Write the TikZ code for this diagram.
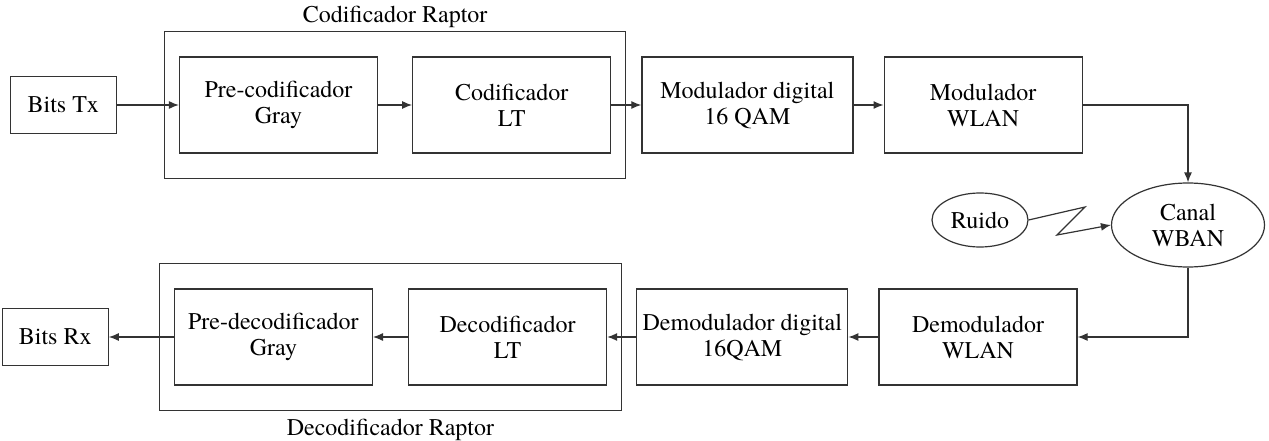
\documentclass[tikz,border=0pt]{standalone}
\usepackage{fontspec}
\setmainfont{texgyretermes}[Extension=.otf, UprightFont=*-regular, BoldFont=*-bold, ItalicFont=*-italic, BoldItalicFont=*-bolditalic]
\usepackage{tikz}
\usetikzlibrary{arrows.meta,positioning,fit,shapes.geometric}
\definecolor{lineGray}{HTML}{333333}

\begin{document}
\begin{tikzpicture}[
  x=1pt, y=1pt,
  node distance=30pt,
  font=\fontsize{24}{26}\selectfont,
  blk/.style={draw=lineGray, line width=1.2pt, align=center, inner sep=0pt, minimum width=198pt, minimum height=96pt},
  io/.style={draw=lineGray, line width=1.2pt, align=center, inner sep=0pt, minimum width=106pt, minimum height=57pt},
  elip/.style={draw=lineGray, line width=1.2pt, ellipse, align=center, inner sep=0pt},
  grp/.style={draw=lineGray, line width=1.2pt, inner xsep=14.5pt, inner ysep=25pt},
  arr/.style={-{Latex[length=10pt,width=8pt]}, line width=1.2pt, color=lineGray}
]
  \useasboundingbox (0,0) rectangle (1269,-441);

  \node[blk] (precod) at (278.5,-105) {Pre-codificador\\Gray};
  \node[blk, right=34pt of precod] (codlt) {Codificador\\LT};
  \node[blk, minimum width=211pt, right=of codlt] (moddig) {Modulador digital\\16 QAM};
  \node[blk, right=of moddig] (modwlan) {Modulador\\WLAN};
  \node[io, left=62pt of precod] (bitstx) {Bits Tx};
  \node[grp, fit=(precod)(codlt), label={[name=codlab, label distance=0pt]above:Codificador Raptor}] (codrap) {};

  \node[elip, minimum width=153pt, minimum height=84pt] (canal) at (1188,-225) {Canal\\WBAN};
  \node[elip, minimum width=96pt, minimum height=54pt] (ruido) at (980,-220) {Ruido};
  \coordinate (z1) at (1085,-207);
  \coordinate (z2) at (1057,-235);

  \node[blk] (demwlan) at (978,-337) {Demodulador\\WLAN};
  \node[blk, minimum width=211pt, left=of demwlan] (demdig) {Demodulador digital\\16QAM};
  \node[blk, left=29pt of demdig] (declt) {Decodificador\\LT};
  \node[blk, left=35pt of declt] (predec) {Pre-decodificador\\Gray};
  \node[io, left=65pt of predec] (bitsrx) {Bits Rx};
  \node[grp, fit=(predec)(declt), label={[name=declab, label distance=4pt]below:Decodificador Raptor}] (decrap) {};

  \draw[arr] (bitstx) -- (precod);
  \draw[arr] (precod) -- (codlt);
  \draw[arr] (codlt) -- (moddig);
  \draw[arr] (moddig) -- (modwlan);
  \draw[arr] (modwlan) -| (canal);
  \draw[arr] (ruido.east) -- (z1) -- (z2) -- (canal.west);
  \draw[arr] (canal) |- (demwlan);
  \draw[arr] (demwlan) -- (demdig);
  \draw[arr] (demdig) -- (declt);
  \draw[arr] (declt) -- (predec);
  \draw[arr] (predec) -- (bitsrx);
\end{tikzpicture}
\end{document}
